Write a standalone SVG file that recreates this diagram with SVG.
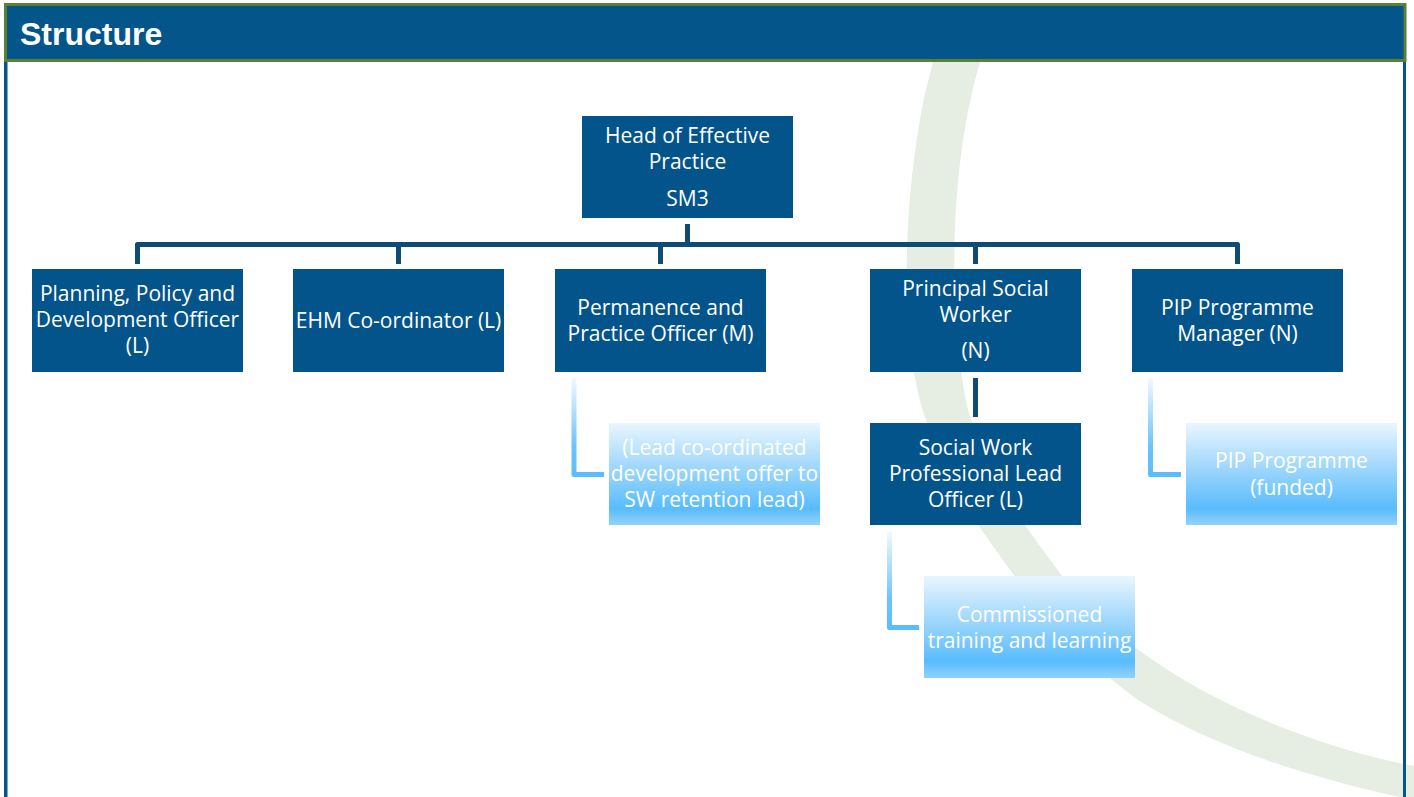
<svg xmlns="http://www.w3.org/2000/svg" width="1414" height="797" viewBox="0 0 1414 797">
  <style>
    .node { fill: #03548A; }
    .lt { fill: url(#ltGrad); }
    .t { font-family: "Open Sans", "Liberation Sans", sans-serif; font-size: 21px; fill: #FFFFFF; text-anchor: middle; }
    .conn { fill: none; stroke: #0F4C75; stroke-width: 5; stroke-linejoin: round; }
    .lconn { fill: none; stroke: url(#lcGrad); stroke-width: 5; stroke-linejoin: round; }
    .title { font-family: "Liberation Sans", Arial, sans-serif; font-size: 32px; font-weight: bold; fill: #FFFFFF; }
  </style>
  <defs>
    <linearGradient id="ltGrad" x1="0" y1="0" x2="0" y2="1">
      <stop offset="0" stop-color="#E9F6FE"/>
      <stop offset="0.42" stop-color="#A2D8FC"/>
      <stop offset="0.84" stop-color="#58BCFD"/>
      <stop offset="1" stop-color="#92D2FC"/>
    </linearGradient>
    <linearGradient id="lcGrad" x1="0" y1="0" x2="0" y2="1">
      <stop offset="0" stop-color="#F2F9FF"/>
      <stop offset="0.7" stop-color="#6CC4FD"/>
      <stop offset="1" stop-color="#5BBDFD"/>
    </linearGradient>
  </defs>

  <rect x="0" y="0" width="1414" height="797" fill="#FFFFFF"/>
  <!-- background decorative arc -->
  <path d="M 933 62 C 905 160, 895 330, 925 417 C 945 470, 960 500, 983 532 C 1030 600, 1080 660, 1140 701 C 1200 740, 1300 777, 1414 800 L 1414 766 C 1330 750, 1220 710, 1140 651 C 1100 620, 1080 600, 1060 573 C 1020 520, 985 470, 970 417 C 950 340, 945 180, 980 62 Z" fill="#E6EEE4"/>

  <!-- frame -->
  <rect x="4" y="60" width="3.5" height="737" fill="#03558A"/>
  <rect x="1403" y="60" width="3" height="737" fill="#03558A"/>
  <rect x="5.5" y="4.5" width="1399.5" height="56" fill="#03558A" stroke="#5B7F33" stroke-width="3"/>
  <text class="title" x="20" y="45">Structure</text>

  <g id="connectors">
    <path class="conn" d="M 687.5 224 V 244.5"/>
    <path class="conn" d="M 137.5 264 V 244.5 H 1237.5 V 264"/>
    <path class="conn" d="M 398.5 244.5 V 264"/>
    <path class="conn" d="M 660.5 244.5 V 264"/>
    <path class="conn" d="M 975.5 244.5 V 264"/>
    <path class="conn" d="M 975.5 378 V 417"/>
    <path class="lconn" d="M 574 378 V 474.5 H 604"/>
    <path class="lconn" d="M 1150.5 378 V 474.5 H 1181"/>
    <path class="lconn" d="M 889.5 532 V 627.5 H 919"/>
  </g>

  <g id="head">
    <rect class="node" x="582" y="116" width="211" height="102"/>
    <text class="t" x="687.5" y="143">Head of Effective</text>
    <text class="t" x="687.5" y="169">Practice</text>
    <text class="t" x="687.5" y="206">SM3</text>
  </g>

  <g id="planning">
    <rect class="node" x="32" y="269" width="211" height="103"/>
    <text class="t" x="137.5" y="301">Planning, Policy and</text>
    <text class="t" x="137.5" y="327">Development Officer</text>
    <text class="t" x="137.5" y="353">(L)</text>
  </g>

  <g id="ehm">
    <rect class="node" x="293" y="269" width="211" height="103"/>
    <text class="t" x="398.5" y="328">EHM Co-ordinator (L)</text>
  </g>

  <g id="permanence">
    <rect class="node" x="555" y="269" width="211" height="103"/>
    <text class="t" x="660.5" y="315">Permanence and</text>
    <text class="t" x="660.5" y="341">Practice Officer (M)</text>
  </g>

  <g id="psw">
    <rect class="node" x="870" y="269" width="211" height="103"/>
    <text class="t" x="975.5" y="296">Principal Social</text>
    <text class="t" x="975.5" y="322">Worker</text>
    <text class="t" x="975.5" y="358">(N)</text>
  </g>

  <g id="pip-manager">
    <rect class="node" x="1132" y="269" width="211" height="103"/>
    <text class="t" x="1237.5" y="315">PIP Programme</text>
    <text class="t" x="1237.5" y="341">Manager (N)</text>
  </g>

  <g id="swpl">
    <rect class="node" x="870" y="423" width="211" height="102"/>
    <text class="t" x="975.5" y="455">Social Work</text>
    <text class="t" x="975.5" y="481">Professional Lead</text>
    <text class="t" x="975.5" y="507">Officer (L)</text>
  </g>

  <g id="lead-coord">
    <rect class="lt" x="609" y="423" width="211" height="102"/>
    <text class="t" x="714.5" y="455">(Lead co-ordinated</text>
    <text class="t" x="714.5" y="481">development offer to</text>
    <text class="t" x="714.5" y="507">SW retention lead)</text>
  </g>

  <g id="pip-funded">
    <rect class="lt" x="1186" y="423" width="211" height="102"/>
    <text class="t" x="1291.5" y="468">PIP Programme</text>
    <text class="t" x="1291.5" y="495">(funded)</text>
  </g>

  <g id="commissioned">
    <rect class="lt" x="924" y="576" width="211" height="102"/>
    <text class="t" x="1029.5" y="622">Commissioned</text>
    <text class="t" x="1029.5" y="648">training and learning</text>
  </g>
</svg>
